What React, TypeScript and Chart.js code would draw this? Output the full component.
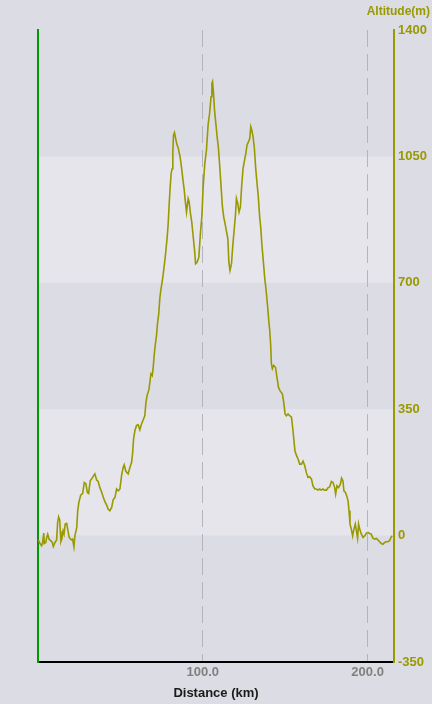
import React, { useEffect, useRef } from 'react';
import { Chart, registerables } from 'chart.js';

Chart.register(...registerables);

// Distance along the route (km)
const distKm = [
  0.2, 1.2, 2.2, 2.8, 3.5, 3.8, 4.7, 5.3, 5.9, 6.7, 7.7, 8.7, 9.3, 10.3, 11.3, 11.9, 12.5, 13.2, 13.5, 13.9,
  14.5, 15.2, 15.8, 16.5, 17.4, 18.0, 18.8, 19.4, 20.4, 21.0, 21.8, 22.4, 23.5, 24.1, 24.8, 25.9, 27.1, 28.1, 29.1, 29.9,
  30.7, 31.7, 32.7, 33.8, 34.5, 35.6, 36.5, 37.6, 38.6, 39.6, 40.6, 41.6, 42.6, 43.6, 44.7, 45.6, 46.7, 47.7, 48.7, 49.7,
  50.7, 51.7, 52.3, 53.3, 54.7, 55.8, 56.8, 57.4, 58.0, 58.8, 59.8, 60.8, 61.8, 62.8, 63.8, 64.8, 65.5, 66.2, 67.3, 67.9,
  68.5, 69.3, 69.9, 70.5, 71.1, 71.9, 72.5, 73.3, 73.9, 74.5, 75.3, 75.9, 76.5, 77.2, 77.8, 78.4, 79.0, 79.6, 80.2, 80.8,
  81.4, 81.8, 82.2, 82.8, 83.5, 84.2, 85.0, 85.6, 86.2, 86.8, 87.5, 88.1, 88.7, 89.3, 90.1, 91.1, 91.7, 92.5, 93.3, 94.1,
  95.0, 95.6, 96.5, 97.6, 98.6, 99.4, 100.2, 101.2, 102.2, 103.2, 104.2, 105.0, 105.5, 105.9, 106.5, 107.1, 107.9, 108.7, 109.5, 110.3,
  111.1, 111.9, 112.7, 113.5, 114.4, 115.2, 115.8, 116.5, 117.4, 118.2, 119.0, 119.8, 120.4, 121.2, 122.0, 122.8, 123.6, 124.4, 125.3, 126.1,
  126.8, 127.7, 128.5, 129.1, 129.7, 130.5, 131.3, 132.1, 132.9, 133.6, 134.5, 135.2, 135.8, 136.4, 137.0, 137.6, 138.2, 138.8, 139.4, 140.0,
  140.6, 141.2, 141.6, 142.2, 143.0, 144.1, 145.0, 145.9, 146.7, 148.3, 149.1, 149.9, 150.7, 151.7, 152.7, 153.8, 154.7, 155.3, 155.9, 156.8,
  157.8, 158.8, 159.8, 160.8, 161.8, 162.8, 163.8, 164.8, 165.9, 166.8, 167.9, 168.9, 169.9, 170.9, 171.9, 172.9, 173.9, 175.0, 175.9, 177.0,
  178.0, 179.0, 180.0, 180.6, 181.4, 182.4, 183.5, 184.2, 185.0, 185.6, 186.5, 187.3, 188.1, 188.7, 189.3, 190.1, 190.9, 191.7, 192.5, 193.2,
  193.9, 194.5, 195.2, 196.2, 197.2, 198.2, 199.2, 200.2, 201.2, 202.2, 203.2, 204.2, 205.3, 206.2, 207.3, 208.3, 209.3, 210.3, 211.3, 212.3,
  213.3, 214.4, 215.0
];

// Altitude (m)
const altM = [
  -12, -22, -28, -19, 7, -22, -19, -5, 4, -10, -14, -19, -30, -19, -12, 36, 52, 43, 13, -16,
  -8, 13, 4, 32, 34, 18, -3, -8, -12, -10, -31, 0, 22, 69, 92, 112, 117, 147, 143, 120,
  117, 152, 158, 166, 171, 154, 150, 132, 121, 106, 94, 85, 73, 69, 78, 99, 106, 129, 124, 129,
  166, 189, 196, 178, 171, 189, 203, 228, 268, 291, 305, 307, 293, 309, 320, 332, 369, 388, 404, 425,
  448, 443, 466, 499, 527, 554, 587, 616, 656, 679, 702, 721, 744, 771, 799, 827, 864, 919, 965, 1004,
  1016, 1062, 1109, 1116, 1100, 1084, 1075, 1062, 1049, 1030, 1003, 979, 958, 929, 896, 933, 924, 892, 868, 831,
  790, 753, 757, 771, 841, 882, 965, 1030, 1067, 1137, 1173, 1215, 1252, 1257, 1224, 1178, 1141, 1104, 1072, 1021,
  965, 910, 882, 864, 841, 822, 757, 734, 753, 804, 845, 887, 933, 919, 896, 910, 970, 1016, 1039, 1058,
  1081, 1090, 1100, 1132, 1123, 1104, 1072, 1016, 975, 942, 882, 850, 808, 776, 744, 711, 688, 660, 630, 596,
  568, 526, 476, 462, 471, 466, 438, 411, 402, 392, 369, 337, 332, 337, 332, 328, 291, 263, 235, 222,
  212, 198, 198, 206, 194, 175, 161, 163, 157, 138, 129, 129, 126, 129, 126, 129, 126, 126, 132, 135,
  150, 147, 133, 115, 138, 133, 143, 159, 152, 124, 120, 110, 97, 69, 32, 18, -1, 18, 32, 13,
  -7, 32, 18, 4, -5, -1, 6, 9, 6, 4, -7, -10, -8, -12, -17, -22, -24, -19, -17, -17,
  -14, -3, -1
];

const xTickValues = [100, 200];
const yMin = -350;
const yMax = 1400;
const yStep = 350;
const lightBands = [
  [0, 350],
  [700, 1050],
];

const OLIVE = '#999900';
const GREEN = '#009900';
const PAGE_BG = '#dcdce4';
const BAND_LIGHT = '#e5e5eb';
const FONT = '"Liberation Sans", Arial, sans-serif';

const bandsPlugin = {
  id: 'bands',
  beforeDraw(chart: any) {
    const { ctx, chartArea, scales } = chart;
    const y = scales.y;
    if (!y || !chartArea) return;
    ctx.save();
    ctx.fillStyle = BAND_LIGHT;
    for (const [a, b] of lightBands) {
      const top = y.getPixelForValue(b);
      const bot = y.getPixelForValue(a);
      ctx.fillRect(chartArea.left, top, chartArea.right - chartArea.left, bot - top);
    }
    ctx.restore();
  },
};

export default function App() {
  const ref = useRef<HTMLCanvasElement | null>(null);

  useEffect(() => {
    if (!ref.current) return;
    const points = distKm.map((d, i) => ({ x: d, y: altM[i] }));
    const chart = new Chart(ref.current, {
      type: 'line',
      data: {
        datasets: [
          {
            data: points,
            borderColor: OLIVE,
            borderWidth: 1.6,
            pointRadius: 0,
            tension: 0,
            fill: false,
            xAxisID: 'x',
            yAxisID: 'y',
          },
        ],
      },
      plugins: [bandsPlugin],
      options: {
        animation: false,
        responsive: false,
        devicePixelRatio: 1,
        layout: { padding: { top: 0, left: 0, right: 2, bottom: 0 } },
        plugins: {
          legend: { display: false },
          tooltip: { enabled: false },
          title: {
            display: true,
            text: 'Altitude(m)',
            align: 'end',
            position: 'top',
            color: OLIVE,
            font: { family: FONT, size: 12, weight: 'bold' },
            padding: { top: 4, bottom: 11.6 },
          },
        },
        scales: {
          x: {
            type: 'linear',
            position: 'bottom',
            min: 0,
            max: 216,
            afterBuildTicks: (scale: any) => {
              scale.ticks = xTickValues.map((v) => ({ value: v }));
            },
            afterFit: (scale: any) => {
              scale.height = 42;
            },
            ticks: {
              color: '#808080',
              font: { family: FONT, size: 13, weight: 'bold' },
              padding: 3,
              maxRotation: 0,
              autoSkip: false,
              callback: (v: any) => Number(v).toFixed(1),
            },
            grid: {
              display: true,
              drawOnChartArea: true,
              drawTicks: false,
              color: '#b4b4ba',
              lineWidth: 1,
            },
            border: { display: true, color: '#000000', width: 2, dash: [17, 7] },
            title: {
              display: true,
              text: 'Distance (km)',
              color: '#1a1a1a',
              font: { family: FONT, size: 13, weight: 'bold' },
              padding: { top: 0, bottom: 3 },
            },
          },
          y: {
            type: 'linear',
            position: 'right',
            min: yMin,
            max: yMax,
            afterFit: (scale: any) => {
              scale.width = 36;
            },
            ticks: {
              stepSize: yStep,
              color: OLIVE,
              font: { family: FONT, size: 13, weight: 'bold' },
              padding: 4,
              callback: (v: any) => String(v),
            },
            grid: { display: false, drawTicks: false },
            border: { display: true, color: OLIVE, width: 2 },
          },
          yl: {
            type: 'linear',
            position: 'left',
            min: yMin,
            max: yMax,
            afterFit: (scale: any) => {
              scale.width = 38;
            },
            ticks: { display: false },
            grid: { display: false, drawTicks: false },
            border: { display: true, color: GREEN, width: 2 },
          },
        },
      },
    } as any);
    return () => chart.destroy();
  }, []);

  return (
    <div
      style={{
        position: 'fixed',
        left: 0,
        top: 0,
        width: 432,
        height: 704,
        background: PAGE_BG,
      }}
    >
      <canvas ref={ref} width={432} height={704} style={{ display: 'block', width: 432, height: 704 }} />
    </div>
  );
}
